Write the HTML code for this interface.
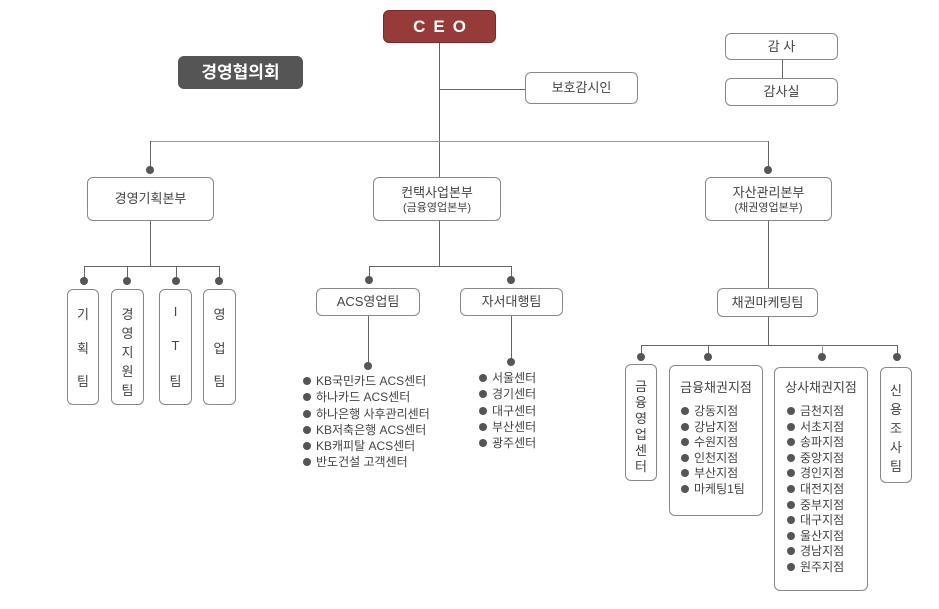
<!DOCTYPE html>
<html><head><meta charset="utf-8"><style>
body{margin:0;width:939px;height:609px;background:#fff;position:relative;overflow:hidden;font-family:"Liberation Sans","Noto Sans CJK KR","NanumGothic",sans-serif;color:#444}
.b{position:absolute;box-sizing:border-box;border:1px solid #888;border-radius:6px;background:#fff;text-align:center;font-size:13px;color:#444}
.l{position:absolute;background:#666}
.d{position:absolute;width:8px;height:8px;border-radius:50%;background:#555}
.v{display:flex;flex-direction:column;justify-content:space-between;align-items:center;padding:14px 0}
.list{position:absolute;font-size:12px;line-height:16.3px;color:#444;white-space:nowrap}
.list span{display:inline-block;width:8px;height:8px;border-radius:50%;background:#555;margin-right:5px;vertical-align:0}
</style></head><body>
<!-- lines -->
<div class="l" style="left:439px;top:43px;width:1px;height:135px"></div>
<div class="l" style="left:439px;top:89px;width:86px;height:1px"></div>
<div class="l" style="left:782px;top:60px;width:1px;height:18px"></div>
<div class="l" style="left:150px;top:141px;width:619px;height:1px;background:#999"></div>
<div class="l" style="left:150px;top:141px;width:1px;height:29px"></div>
<div class="l" style="left:768px;top:141px;width:1px;height:29px"></div>
<div class="d" style="left:146px;top:166px"></div>
<div class="d" style="left:764px;top:166px"></div>
<!-- left branch -->
<div class="l" style="left:150px;top:221px;width:1px;height:45px"></div>
<div class="l" style="left:84px;top:266px;width:136px;height:1px"></div>
<div class="l" style="left:84px;top:266px;width:1px;height:14px"></div>
<div class="l" style="left:127px;top:266px;width:1px;height:14px"></div>
<div class="l" style="left:176px;top:266px;width:1px;height:14px"></div>
<div class="l" style="left:219px;top:266px;width:1px;height:14px"></div>
<div class="d" style="left:80px;top:277px"></div>
<div class="d" style="left:123px;top:277px"></div>
<div class="d" style="left:172px;top:277px"></div>
<div class="d" style="left:215px;top:277px"></div>
<!-- center branch -->
<div class="l" style="left:439px;top:221px;width:1px;height:45px"></div>
<div class="l" style="left:369px;top:266px;width:143px;height:1px"></div>
<div class="l" style="left:369px;top:266px;width:1px;height:14px"></div>
<div class="l" style="left:511px;top:266px;width:1px;height:14px"></div>
<div class="d" style="left:365px;top:276px"></div>
<div class="d" style="left:507px;top:276px"></div>
<div class="l" style="left:368px;top:316px;width:1px;height:50px"></div>
<div class="l" style="left:511px;top:316px;width:1px;height:46px"></div>
<div class="d" style="left:364px;top:362px"></div>
<div class="d" style="left:507px;top:358px"></div>
<!-- right branch -->
<div class="l" style="left:768px;top:221px;width:1px;height:67px"></div>
<div class="l" style="left:768px;top:317px;width:1px;height:28px"></div>
<div class="l" style="left:641px;top:345px;width:257px;height:1px"></div>
<div class="l" style="left:641px;top:345px;width:1px;height:12px"></div>
<div class="l" style="left:708px;top:345px;width:1px;height:12px"></div>
<div class="l" style="left:822px;top:345px;width:1px;height:12px;background:#999"></div>
<div class="l" style="left:897px;top:345px;width:1px;height:12px"></div>
<div class="d" style="left:637px;top:353px"></div>
<div class="d" style="left:704px;top:353px"></div>
<div class="d" style="left:818px;top:353px"></div>
<div class="d" style="left:893px;top:353px"></div>
<!-- boxes -->
<div class="b" style="left:383px;top:10px;width:113px;height:33px;background:#963a3a;border-color:#7a2a2a;color:#fff;font-weight:bold;font-size:17px;line-height:31px;letter-spacing:8px;padding-left:8px">CEO</div>
<div class="b" style="left:178px;top:56px;width:125px;height:33px;background:#555;border-color:#555;color:#fff;font-weight:bold;font-size:17px;line-height:31px">경영협의회</div>
<div class="b" style="left:525px;top:72px;width:113px;height:32px;line-height:30px">보호감시인</div>
<div class="b" style="left:725px;top:33px;width:113px;height:27px;line-height:25px">감 사</div>
<div class="b" style="left:725px;top:78px;width:113px;height:28px;line-height:26px">감사실</div>
<div class="b" style="left:87px;top:177px;width:127px;height:44px;line-height:42px">경영기획본부</div>
<div class="b" style="left:373px;top:177px;width:128px;height:44px;padding-top:8px;line-height:14px">컨택사업본부<br><span style="font-size:11px">(금융영업본부)</span></div>
<div class="b" style="left:705px;top:177px;width:127px;height:44px;padding-top:8px;line-height:14px">자산관리본부<br><span style="font-size:11px">(채권영업본부)</span></div>
<div class="b v" style="left:67px;top:289px;width:32px;height:116px"><span>기</span><span>획</span><span>팀</span></div>
<div class="b v" style="left:111px;top:289px;width:33px;height:116px"><span>경</span><span>영</span><span>지</span><span>원</span><span>팀</span></div>
<div class="b v" style="left:159px;top:289px;width:33px;height:116px"><span>I</span><span>T</span><span>팀</span></div>
<div class="b v" style="left:203px;top:289px;width:33px;height:116px"><span>영</span><span>업</span><span>팀</span></div>
<div class="b" style="left:316px;top:288px;width:104px;height:28px;line-height:26px">ACS영업팀</div>
<div class="b" style="left:460px;top:288px;width:103px;height:28px;line-height:26px">자서대행팀</div>
<div class="b" style="left:717px;top:288px;width:101px;height:29px;line-height:27px">채권마케팅팀</div>
<div class="b" style="left:625px;top:364px;width:32px;height:117px;padding-top:14px;line-height:16px;font-size:13px">금<br>융<br>영<br>업<br>센<br>터</div>
<div class="b" style="left:669px;top:365px;width:94px;height:151px;padding-top:14px;line-height:16px">금융채권지점</div>
<div class="b" style="left:774px;top:367px;width:94px;height:224px;padding-top:12px;line-height:16px">상사채권지점</div>
<div class="b v" style="left:880px;top:367px;width:32px;height:116px;padding:12px 0"><span>신</span><span>용</span><span>조</span><span>사</span><span>팀</span></div>
<!-- lists -->
<div class="list" style="left:303px;top:373px"><span></span>KB국민카드 ACS센터<br><span></span>하나카드 ACS센터<br><span></span>하나은행 사후관리센터<br><span></span>KB저축은행 ACS센터<br><span></span>KB캐피탈 ACS센터<br><span></span>반도건설 고객센터</div>
<div class="list" style="left:479px;top:370px"><span></span>서울센터<br><span></span>경기센터<br><span></span>대구센터<br><span></span>부산센터<br><span></span>광주센터</div>
<div class="list" style="left:681px;top:404px;line-height:15.5px"><span></span>강동지점<br><span></span>강남지점<br><span></span>수원지점<br><span></span>인천지점<br><span></span>부산지점<br><span></span>마케팅1팀</div>
<div class="list" style="left:787px;top:404px;line-height:15.6px"><span></span>금천지점<br><span></span>서초지점<br><span></span>송파지점<br><span></span>중앙지점<br><span></span>경인지점<br><span></span>대전지점<br><span></span>중부지점<br><span></span>대구지점<br><span></span>울산지점<br><span></span>경남지점<br><span></span>원주지점</div>
</body></html>
